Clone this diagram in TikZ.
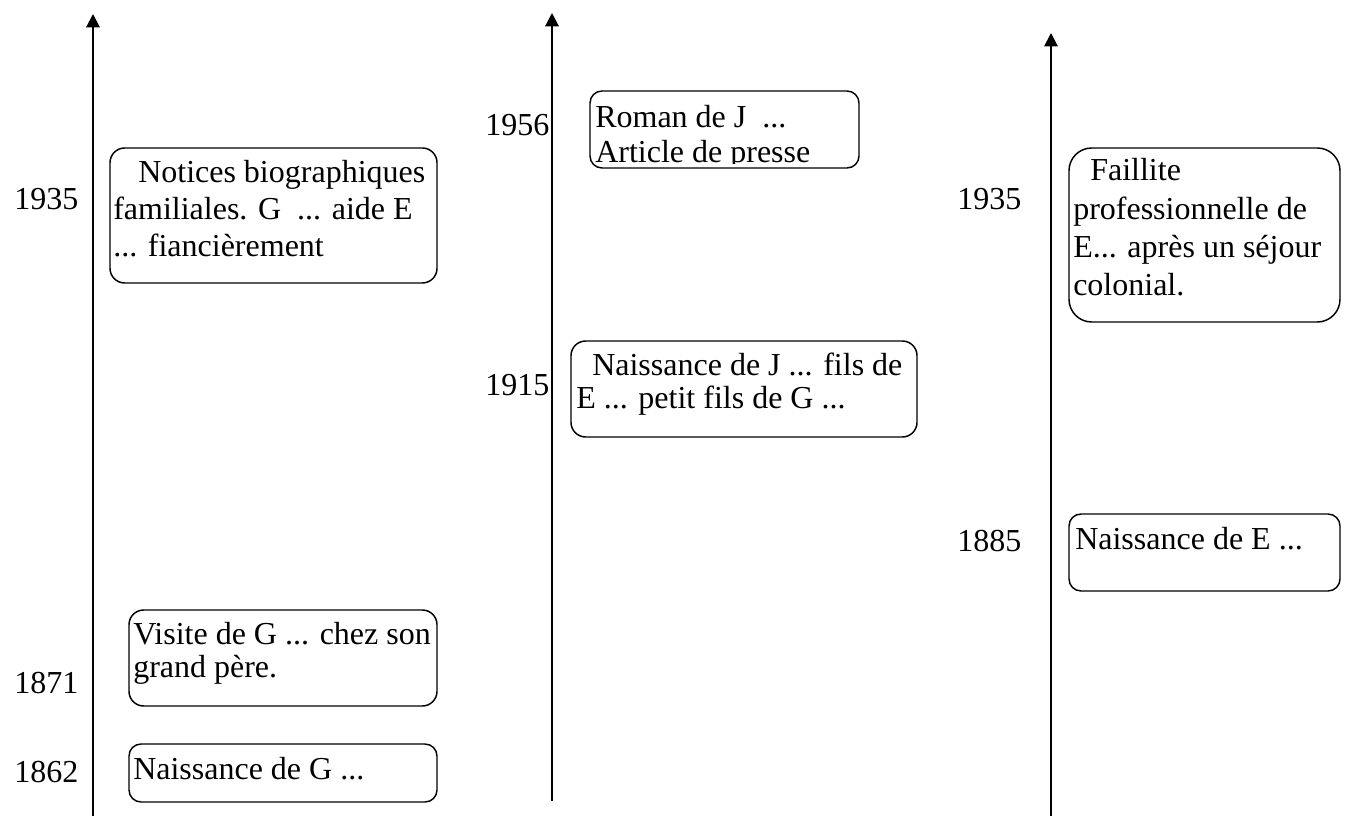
\documentclass[tikz,border=0pt]{standalone}
\usepackage{fontspec}
\setmainfont{Liberation Serif}
\usetikzlibrary{arrows.meta,fit}
\newcommand{\evfont}{\fontsize{24}{27.75}\selectfont}
% multi-line texts are placed by the baseline of their last line;
% the argument of evtext is the line spacing of the text
\tikzset{
  axisline/.style={line width=1.5pt, -{Triangle[width=10pt,length=10pt]}},
  evbox/.style={draw, line width=1.1pt, inner sep=0pt, rounded corners=#1},
  evbox/.default=11pt,
  evtext/.style={anchor=base west, inner sep=0pt, align=left,
    font=\fontsize{24}{#1}\selectfont},
  evtext/.default=27.75pt,
  yearlbl/.style={anchor=base west, inner sep=0pt, font=\evfont},
}
\begin{document}
\begin{tikzpicture}[x=0.75pt,y=-0.75pt]
\useasboundingbox (0,0) rectangle (1346,816);

% time axes
\coordinate (a1b) at (93,816);  \coordinate (a1t) at (93,14);
\coordinate (a2b) at (552,801); \coordinate (a2t) at (552,13);
\coordinate (a3b) at (1051,816); \coordinate (a3t) at (1051,33);
\draw[axisline] (a1b) -- (a1t);
\draw[axisline] (a2b) -- (a2t);
\draw[axisline] (a3b) -- (a3t);

% first axis: G ...
\node[evbox] (notices) [fit={(110,148) (437,283)}] {};
\node[evtext] (noticesT) at (113,257)
  {\hspace*{18.75pt}Notices biographiques\\familiales. G \ ... aide E\\... fiancièrement};
\node[yearlbl] (y1935a) at (14,210) {1935};

\node[evbox] (visite) [fit={(129,610) (437,706)}] {};
\node[evtext=24.75pt] (visiteT) at (133,677) {Visite de G ... chez son\\grand père.};
\node[yearlbl] (y1871) at (14,693) {1871};

\node[evbox=9pt] (naisG) [fit={(129,744) (437,802)}] {};
\node[evtext] (naisGT) at (133,779) {Naissance de G ...};
\node[yearlbl] (y1862) at (14,782) {1862};

% second axis: J ...
\node[evbox=9pt] (roman) [fit={(590,91) (859,168)}] {};
\begin{scope}
  \clip (585,85) rectangle (865,164);
  \node[evtext=26.25pt] (romanT) at (595,163) {Roman de J \ ...\\Article de presse};
\end{scope}
\node[yearlbl] (y1956) at (485,136) {1956};

\node[evbox] (naisJ) [fit={(571,341) (917,437)}] {};
\node[evtext=24.75pt] (naisJT) at (576,409)
  {\hspace*{12pt}Naissance de J ... fils de\\E ... petit fils de G ...};
\node[yearlbl] (y1915) at (485,396) {1915};

% third axis: E ...
\node[evbox=17pt] (faillite) [fit={(1069,148) (1340,322)}] {};
\node[evtext=28.75pt] (failliteT) at (1073,296)
  {\hspace*{12.75pt}Faillite\\professionnelle de\\E... après un séjour\\colonial.};
\node[yearlbl] (y1935b) at (957,210) {1935};

\node[evbox=9pt] (naisE) [fit={(1069,514) (1340,591)}] {};
\node[evtext] (naisET) at (1075,549) {Naissance de E ...};
\node[yearlbl] (y1885) at (957,551) {1885};
\end{tikzpicture}
\end{document}
